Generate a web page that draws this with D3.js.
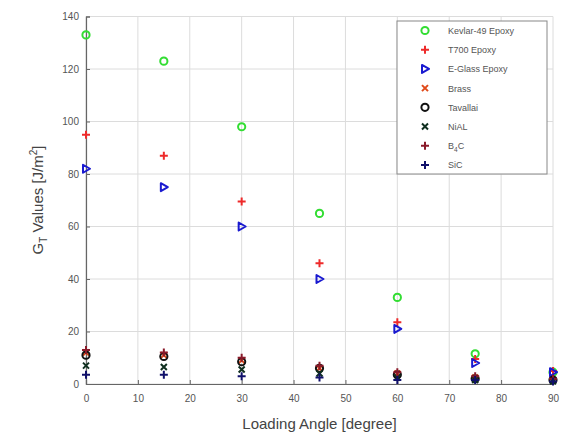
<!DOCTYPE html>
<html>
<head>
<meta charset="utf-8">
<script src="https://cdn.jsdelivr.net/npm/d3@7"></script>
<style>
  html, body { margin: 0; padding: 0; background: #fff; }
  svg { display: block; font-family: "Liberation Sans", Arial, sans-serif; }
</style>
</head>
<body>
<svg id="chart" width="569" height="438"></svg>
<script>
// Loading angles (degrees)
const angles = [0, 15, 30, 45, 60, 75, 90];

// G_T values [J/m^2] per material
const kevlar  = [133, 123, 98, 65, 33, 11.5, 4.5];
const t700    = [95, 87, 69.5, 46, 23.5, 9.5, 5];
const eglass  = [82, 75, 60, 40, 21, 8, 4.5];
const brass   = [12, 11, 9, 6, 4, 2.5, 1.5];
const tavallai= [11, 10.5, 8.5, 6, 3.5, 2, 1.5];
const nial    = [7, 6.5, 5.5, 4, 2.5, 1.5, 1];
const b4c     = [13, 12, 10, 7, 4.5, 3, 2];
const sic     = [3.5, 3.5, 3, 2.5, 1.5, 1.5, 1];

const xTicks = [0, 10, 20, 30, 40, 50, 60, 70, 80, 90];
const yTicks = [0, 20, 40, 60, 80, 100, 120, 140];

const series = [
  { name: "Kevlar-49 Epoxy", values: kevlar,   symbol: "circle", color: "#33dd33" },
  { name: "T700 Epoxy",      values: t700,     symbol: "plus",   color: "#ee2a2a" },
  { name: "E-Glass Epoxy",   values: eglass,   symbol: "tri",    color: "#1a1ad0" },
  { name: "Brass",           values: brass,    symbol: "cross",  color: "#e04a1a" },
  { name: "Tavallai",        values: tavallai, symbol: "circle", color: "#111111" },
  { name: "NiAL",            values: nial,     symbol: "cross",  color: "#0f2f1f" },
  { name: "B4C",             values: b4c,      symbol: "plus",   color: "#8a1a2a", sub: "4" },
  { name: "SiC",             values: sic,      symbol: "plus",   color: "#10106a" }
];

const svg = d3.select("#chart");
const m = { left: 86, right: 553, top: 16.5, bottom: 384 };

const x = d3.scaleLinear().domain([0, 90]).range([m.left, m.right]);
const y = d3.scaleLinear().domain([0, 140]).range([m.bottom, m.top]);

// grid
const grid = svg.append("g").attr("stroke", "#dcdcdc").attr("stroke-width", 1);
xTicks.forEach(t => grid.append("line")
  .attr("x1", x(t)).attr("x2", x(t)).attr("y1", m.top).attr("y2", m.bottom));
yTicks.forEach(t => grid.append("line")
  .attr("x1", m.left).attr("x2", m.right).attr("y1", y(t)).attr("y2", y(t)));

// axes
const xAxis = svg.append("g").attr("transform", `translate(0,${m.bottom})`)
  .call(d3.axisBottom(x).tickValues(xTicks).tickSize(-4).tickPadding(11).tickFormat(d3.format("d")));
const yAxis = svg.append("g").attr("transform", `translate(${m.left},0)`)
  .call(d3.axisLeft(y).tickValues(yTicks).tickSize(-4).tickPadding(7).tickFormat(d3.format("d")));
[xAxis, yAxis].forEach(a => {
  a.select(".domain").attr("stroke", "#666").attr("stroke-width", 1.2);
  a.selectAll(".tick line").attr("stroke", "#666");
  a.selectAll(".tick text").attr("fill", "#555").attr("font-size", 10)
    .attr("font-family", "Liberation Sans, Arial, sans-serif");
});

// marker drawing
function drawMarker(g, symbol, color) {
  const sw = 2;
  if (symbol === "circle") {
    g.append("circle").attr("r", 3.6).attr("fill", "none").attr("stroke", color).attr("stroke-width", sw);
  } else if (symbol === "plus") {
    g.append("path").attr("d", "M-4,0H4M0,-4V4").attr("stroke", color).attr("stroke-width", sw).attr("fill", "none");
  } else if (symbol === "cross") {
    g.append("path").attr("d", "M-3,-3L3,3M-3,3L3,-3").attr("stroke", color).attr("stroke-width", sw).attr("fill", "none");
  } else if (symbol === "tri") {
    g.append("path").attr("d", "M-3,-4L4,0L-3,4Z").attr("stroke", color).attr("stroke-width", sw)
      .attr("fill", "none").attr("stroke-linejoin", "round");
  }
}

// data points
series.forEach(s => {
  const layer = svg.append("g");
  s.values.forEach((v, i) => {
    const g = layer.append("g").attr("transform", `translate(${x(angles[i])},${y(v)})`);
    drawMarker(g, s.symbol, s.color);
  });
});

// legend
const lg = svg.append("g");
lg.append("rect").attr("x", 397).attr("y", 21).attr("width", 150).attr("height", 153)
  .attr("fill", "#fff").attr("stroke", "#888").attr("stroke-width", 1);
series.forEach((s, i) => {
  const yy = 30.5 + i * 19.2;
  const g = lg.append("g").attr("transform", `translate(425,${yy})`);
  drawMarker(g, s.symbol, s.color);
  const t = lg.append("text").attr("x", 448).attr("y", yy + 3.5)
    .attr("font-size", 9).attr("fill", "#555");
  if (s.sub) {
    t.append("tspan").text("B");
    t.append("tspan").attr("font-size", 6.5).attr("dy", 3).text(s.sub);
    t.append("tspan").attr("dy", -3).text("C");
  } else {
    t.text(s.name);
  }
});

// axis titles
svg.append("text").attr("x", (m.left + m.right) / 2).attr("y", 429)
  .attr("text-anchor", "middle").attr("font-size", 15).attr("fill", "#444")
  .text("Loading Angle [degree]");

const yl = svg.append("text").attr("transform", `translate(43,200) rotate(-90)`)
  .attr("text-anchor", "middle").attr("font-size", 15).attr("fill", "#444");
yl.append("tspan").text("G");
yl.append("tspan").attr("font-size", 10).attr("dy", 4).text("T");
yl.append("tspan").attr("dy", -4).text(" Values [J/m");
yl.append("tspan").attr("font-size", 10).attr("dy", -6).text("2");
yl.append("tspan").attr("dy", 6).text("]");
</script>
</body>
</html>
